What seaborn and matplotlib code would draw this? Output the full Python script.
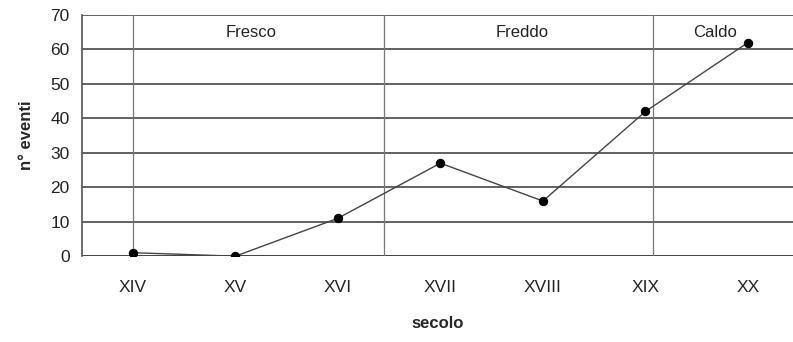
import numpy as np
import pandas as pd
import seaborn as sns
import matplotlib.pyplot as plt

# dati
secoli = ['XIV', 'XV', 'XVI', 'XVII', 'XVIII', 'XIX', 'XX']
eventi = [1, 0, 11, 27, 16, 42, 62]
periodi = ['Fresco', 'Freddo', 'Caldo']
periodi_x = [1.15, 3.8, 5.68]
confini = [0, 2.45, 5.07]

df = pd.DataFrame({'secolo': secoli, 'eventi': eventi})
df['pos'] = np.arange(len(secoli))

sns.set_style('white')
plt.rcParams['font.family'] = ['Liberation Sans', 'DejaVu Sans']

fig = plt.figure(figsize=(7.93, 3.42), dpi=100)
ax = fig.add_axes([0.103, 0.251, 0.897, 0.705])

# griglia orizzontale
for v in range(10, 71, 10):
    ax.axhline(v, color='#555555', lw=1.3, zorder=0)
ax.axhline(0, color='#333333', lw=1.3, zorder=0)

for c in confini:
    ax.axvline(c, color='#777777', lw=0.9, zorder=0)

sns.lineplot(data=df, x='pos', y='eventi', color='#444444', lw=1.0,
             marker='o', markersize=6, markerfacecolor='black',
             markeredgecolor='black', ax=ax, zorder=3)

for nome, xp in zip(periodi, periodi_x):
    ax.text(xp, 65, nome, ha='center', va='center', fontsize=12, color='#222222')

ax.set_xlim(-0.5, 6.44)
ax.set_ylim(0, 70)
ax.set_yticks(range(0, 71, 10))
ax.set_xticks(range(len(secoli)))
ax.set_xticklabels(secoli)
ax.set_xticks(np.arange(-0.5, 6.5, 1), minor=True)
ax.tick_params(axis='x', which='major', length=0, pad=17, labelsize=12.5, colors='#222222')
ax.tick_params(axis='x', which='minor', length=4, direction='out', color='#777777')
ax.tick_params(axis='y', length=5, direction='out', labelsize=12.5, colors='#222222', color='#555555')

for s in ['top', 'right', 'bottom']:
    ax.spines[s].set_visible(False)
ax.spines['left'].set_color('#555555')
ax.spines['left'].set_linewidth(1.2)

ax.set_xlabel('secolo', fontsize=12, fontweight='bold', labelpad=15)
ax.set_ylabel('n° eventi', fontsize=12, fontweight='bold', labelpad=12)

fig.savefig('out.png', dpi=100)
